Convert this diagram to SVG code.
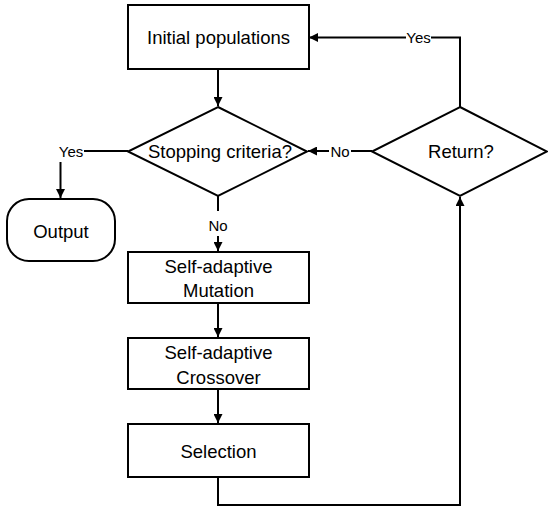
<svg xmlns="http://www.w3.org/2000/svg" width="548" height="506" viewBox="0 0 548 506">
<style>
.box{fill:#fff;stroke:#000;stroke-width:2}
.t{font-family:"Liberation Sans",Arial,sans-serif;font-size:18.5px;fill:#000;text-anchor:middle;dominant-baseline:central}
.l{font-family:"Liberation Sans",Arial,sans-serif;font-size:15px;fill:#000;text-anchor:middle;dominant-baseline:central}
.c{fill:none;stroke:#000;stroke-width:2}
</style>
<defs>
<marker id="ah" viewBox="0 0 10 10" refX="10" refY="5" markerWidth="4.5" markerHeight="4.5" orient="auto" markerUnits="strokeWidth">
<path d="M0,0 L10,5 L0,10 Z" fill="#000"/>
</marker>
</defs>
<rect width="548" height="506" fill="#fff"/>
<g id="connectors">
<path class="c" d="M218,69 V106" marker-end="url(#ah)"/>
<path class="c" d="M218,196 V211"/>
<path class="c" d="M218,236 V251" marker-end="url(#ah)"/>
<path class="c" d="M218,303 V337" marker-end="url(#ah)"/>
<path class="c" d="M218,389 V423" marker-end="url(#ah)"/>
<path class="c" d="M218,477 V505 H460 V197" marker-end="url(#ah)"/>
<path class="c" d="M128,151 H84"/>
<path class="c" d="M60.5,162 V198" marker-end="url(#ah)"/>
<path class="c" d="M372,151 H351"/>
<path class="c" d="M329,151 H308" marker-end="url(#ah)"/>
<path class="c" d="M460,107 V37.5 H431"/>
<path class="c" d="M406,37.5 H309" marker-end="url(#ah)"/>
<text class="l" x="71" y="151">Yes</text>
<text class="l" x="218" y="225">No</text>
<text class="l" x="340" y="151">No</text>
<text class="l" x="418.5" y="37.5">Yes</text>
</g>
<g id="initial">
<rect class="box" x="128" y="5" width="181" height="64"/>
<text class="t" x="218.5" y="37">Initial populations</text>
</g>
<g id="stopping">
<polygon class="box" points="218,107 307,151.5 218,196 128,151.5"/>
<text class="t" x="220" y="151">Stopping criteria?</text>
</g>
<g id="return">
<polygon class="box" points="460,107 547,151.5 460,196 372,151.5"/>
<text class="t" x="461" y="151">Return?</text>
</g>
<g id="output">
<rect class="box" x="7" y="199" width="108" height="62" rx="22" ry="22"/>
<text class="t" x="61" y="231">Output</text>
</g>
<g id="mutation">
<rect class="box" x="128" y="252" width="181" height="51"/>
<text class="t" x="218.5" y="266">Self-adaptive</text>
<text class="t" x="218.5" y="290">Mutation</text>
</g>
<g id="crossover">
<rect class="box" x="128" y="338" width="181" height="51"/>
<text class="t" x="218.5" y="352">Self-adaptive</text>
<text class="t" x="218.5" y="377">Crossover</text>
</g>
<g id="selection">
<rect class="box" x="128" y="424" width="181" height="53"/>
<text class="t" x="218.5" y="451">Selection</text>
</g>
</svg>
